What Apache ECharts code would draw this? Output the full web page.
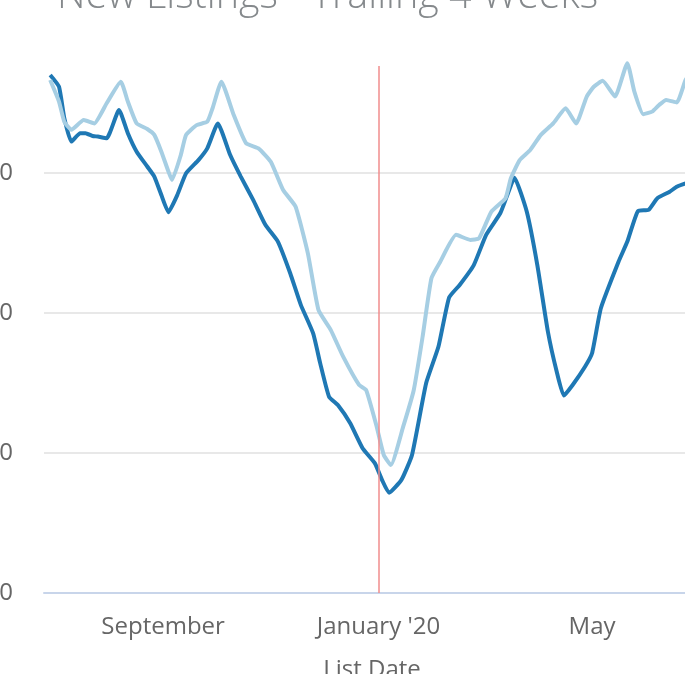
<!DOCTYPE html>
<html><head><meta charset="utf-8">
<script src="https://cdn.jsdelivr.net/npm/echarts@6/dist/echarts.min.js"></script>
<style>
html,body{margin:0;padding:0;width:685px;height:674px;overflow:hidden;background:#fff}
#chart{position:absolute;left:-40px;top:-40px;width:760px;height:714px}
</style>
</head><body><div id="chart"></div>
<script>
const chartTitle = "New Listings - Trailing 4 Weeks";
const xAxisName = "List Date";
const xTickDates = ["2019-09-01", "2020-01-01", "2020-05-01"];
const xTickLabels = ["September", "January '20", "May"];
const yTickValues = [0, 500, 1000, 1500];
const markerDate = "2020-01-01";

const darkDates = ["2019-06-29","2019-07-04","2019-07-07","2019-07-11","2019-07-16","2019-07-19","2019-07-23","2019-07-26","2019-07-31","2019-08-07","2019-08-12","2019-08-17","2019-08-23","2019-08-27","2019-08-31","2019-09-04","2019-09-09","2019-09-14","2019-09-21","2019-09-26","2019-10-02","2019-10-09","2019-10-15","2019-10-22","2019-10-29","2019-11-05","2019-11-12","2019-11-18","2019-11-25","2019-11-29","2019-12-04","2019-12-09","2019-12-16","2019-12-23","2019-12-30","2020-01-03","2020-01-07","2020-01-14","2020-01-20","2020-01-28","2020-02-04","2020-02-10","2020-02-16","2020-02-24","2020-03-02","2020-03-10","2020-03-14","2020-03-18","2020-03-25","2020-03-31","2020-04-06","2020-04-11","2020-04-15","2020-04-20","2020-04-27","2020-05-01","2020-05-06","2020-05-16","2020-05-21","2020-05-27","2020-06-02","2020-06-07","2020-06-14","2020-06-18","2020-06-23","2020-06-28"];
const darkValues = [1850,1808,1696,1612,1642,1642,1632,1630,1624,1725,1642,1576,1523,1487,1421,1360,1421,1499,1546,1588,1677,1564,1487,1404,1314,1255,1142,1029,927,820,701,671,606,517,463,404,358,404,493,749,880,1055,1100,1171,1279,1356,1421,1483,1362,1171,933,790,705,743,808,856,1017,1183,1255,1364,1368,1410,1433,1451,1463,1471];

const lightDates = ["2019-06-29","2019-07-04","2019-07-07","2019-07-11","2019-07-18","2019-07-24","2019-07-31","2019-08-08","2019-08-12","2019-08-17","2019-08-23","2019-08-27","2019-08-31","2019-09-04","2019-09-06","2019-09-11","2019-09-14","2019-09-20","2019-09-26","2019-09-29","2019-10-04","2019-10-11","2019-10-18","2019-10-25","2019-11-01","2019-11-08","2019-11-15","2019-11-22","2019-11-28","2019-12-05","2019-12-12","2019-12-21","2019-12-25","2019-12-31","2020-01-04","2020-01-08","2020-01-15","2020-01-21","2020-01-26","2020-01-31","2020-02-05","2020-02-14","2020-02-22","2020-02-27","2020-03-05","2020-03-13","2020-03-16","2020-03-21","2020-03-27","2020-04-02","2020-04-09","2020-04-16","2020-04-22","2020-04-28","2020-05-02","2020-05-07","2020-05-14","2020-05-21","2020-05-25","2020-05-30","2020-06-04","2020-06-08","2020-06-12","2020-06-18","2020-06-23","2020-06-27"];
const lightValues = [1832,1755,1683,1654,1689,1677,1749,1826,1755,1677,1657,1636,1576,1505,1475,1564,1636,1671,1683,1731,1826,1707,1606,1588,1540,1439,1380,1213,1011,939,844,743,725,594,493,457,594,725,915,1124,1183,1279,1261,1267,1362,1410,1481,1546,1582,1636,1677,1731,1677,1773,1808,1829,1773,1892,1790,1710,1719,1743,1761,1752,1832,1868];

function ts(s) {
  const p = s.split(/[- :]/).map(Number);
  return new Date(p[0], p[1] - 1, p[2], p[3] || 0, p[4] || 0).getTime();
}
const xTickTs = xTickDates.map(ts);
const DAY = 86400000;

const chart = echarts.init(document.getElementById('chart'), null, {renderer: 'canvas'});
chart.setOption({
  animation: false,
  backgroundColor: '#ffffff',
  title: {
    text: chartTitle, left: 92, top: 12,
    textStyle: {fontFamily: 'Open Sans', fontSize: 39.5, fontWeight: 300, color: '#85898c'}
  },
  grid: {left: 84, top: 106, right: 20, bottom: 81, containLabel: false, outerBoundsMode: 'none'},
  xAxis: {
    type: 'time',
    min: ts('2019-06-25 12:00'),
    max: ts('2020-07-01 04:00'),
    minInterval: 28 * DAY, maxInterval: 31 * DAY,
    name: xAxisName, nameLocation: 'middle', nameGap: 65,
    nameTextStyle: {fontFamily: 'Open Sans', fontSize: 24, color: '#666'},
    axisLine: {show: true, lineStyle: {color: '#c8d5ea', width: 2}},
    axisTick: {show: false},
    splitLine: {show: false},
    axisLabel: {
      margin: 22, hideOverlap: false, showMinLabel: false, showMaxLabel: false,
      fontFamily: 'Open Sans', fontSize: 24, color: '#666',
      formatter: function (v) {
        const i = xTickTs.findIndex(t => Math.abs(t - v) < DAY / 2);
        return i >= 0 ? xTickLabels[i] : '';
      }
    }
  },
  yAxis: {
    type: 'value', min: 0, max: 1882, interval: yTickValues[1] - yTickValues[0],
    axisLine: {show: false}, axisTick: {show: false},
    axisLabel: {margin: 31, fontFamily: 'Open Sans', fontSize: 24, color: '#666', showMaxLabel: false},
    splitLine: {show: true, showMaxLine: false, showMinLine: false, lineStyle: {color: '#e8e8e8', width: 2}}
  },
  series: [
    {
      type: 'line', name: 'dark', data: darkDates.map((d, i) => [ts(d), darkValues[i]]),
      showSymbol: false, clip: false, z: 2, smooth: 0.15,
      lineStyle: {color: '#1f78b4', width: 4},
      markLine: {
        silent: true, symbol: ['none', 'none'], label: {show: false},
        lineStyle: {color: '#f08c8c', width: 1.5, type: 'solid'},
        data: [{xAxis: ts(markerDate)}]
      }
    },
    {
      type: 'line', name: 'light', data: lightDates.map((d, i) => [ts(d), lightValues[i]]),
      showSymbol: false, clip: false, z: 3, smooth: 0.15,
      lineStyle: {color: '#a6cee3', width: 4}
    }
  ]
});
</script></body></html>
